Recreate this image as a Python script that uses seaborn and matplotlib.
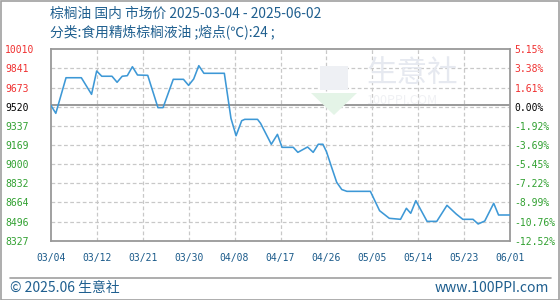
import numpy as np
import pandas as pd
import matplotlib
matplotlib.use("Agg")
import matplotlib.pyplot as plt
import seaborn as sns
from matplotlib.patches import Polygon, Rectangle
from matplotlib.lines import Line2D

# ---- data ----
day = [0, 1, 3, 6, 8, 9, 10, 12, 13, 14, 15, 16, 17, 19, 21, 22, 24, 26, 27, 28, 29, 30,
       34, 35.3, 36.3, 37.4, 38, 40.5, 41.1, 43.2, 44.4, 45.3, 47.5, 48.4, 50.3, 51.4,
       52.4, 53.3, 54, 55, 56, 57, 58, 62.6, 64.4, 66.3, 68.5, 69.65, 70.5, 71.5, 73.7,
       75.6, 77.6, 79.4, 80.7, 82.7, 83.7, 85, 86.75, 87.7, 90]
price = [9520, 9447, 9760, 9760, 9614, 9819, 9773, 9773, 9720, 9773, 9778, 9857, 9784,
         9781, 9497, 9497, 9746, 9746, 9693, 9749, 9866, 9799, 9799, 9403, 9250, 9382,
         9394, 9394, 9359, 9175, 9262, 9148, 9148, 9104, 9151, 9104, 9175, 9175, 9110,
         8974, 8841, 8777, 8761, 8761, 8591, 8524, 8515, 8612, 8568, 8679, 8497, 8497,
         8638, 8562, 8515, 8515, 8474, 8500, 8656, 8553, 8553]
base_price = 9520
x_ticks = [0, 9, 18, 27, 36, 45, 54, 63, 72, 81, 90]
x_labels = ["03/04", "03/12", "03/21", "03/30", "04/08", "04/17", "04/26",
            "05/05", "05/14", "05/23", "06/01"]
y_labels = ["10010", "9841", "9673", "9520", "9337", "9169", "9000",
            "8832", "8664", "8496", "8327"]
pct_labels = ["5.15%", "3.38%", "1.61%", "0.00%", "-1.92%", "-3.69%", "-5.45%",
              "-7.22%", "-8.99%", "-10.76%", "-12.52%"]
title1 = "棕榈油 国内 市场价 2025-03-04 - 2025-06-02"
title2 = "分类:食用精炼棕榈液油 ;熔点(℃):24 ;"
footer_left = "© 2025.06 生意社"
footer_right = "www.100PPI.com"

sns.set_theme(style="white")
plt.rcParams['font.family'] = ['Noto Sans CJK SC', 'DejaVu Sans']

W, H = 560, 300
fig = plt.figure(figsize=(5.6, 3.0), dpi=100)

x0, x1 = 50.7, 510.3
ytop, ybot = 49.3, 240.7
ax = fig.add_axes([x0 / W, 1 - ybot / H, (x1 - x0) / W, (ybot - ytop) / H])

df = pd.DataFrame({"day": day, "price": price})

ymin, ymax = 8327, 10010
grid_y = np.linspace(ymax, ymin, 11)

for gy in grid_y[1:-1]:
    ax.axhline(gy, color='#c8c8c8', lw=0.9, ls=(0, (3, 2)), zorder=1)
for gx in x_ticks[1:-1]:
    ax.axvline(gx, color='#c8c8c8', lw=0.9, ls=(0, (3, 2)), zorder=1)
ax.axhline(base_price, color='#999999', lw=1.4, zorder=2)

sns.lineplot(data=df, x="day", y="price", ax=ax, color='#3d98d6', lw=1.15, zorder=3)

ax.set_xlim(0, 90)
ax.set_ylim(ymin, ymax)
ax.set_xlabel("")
ax.set_ylabel("")
for s in ax.spines.values():
    s.set_color('#999999')
    s.set_linewidth(1.3)

mono = "DejaVu Sans Mono"
ax.set_xticks(x_ticks, x_labels)
ax.tick_params(axis='x', length=0, pad=9, labelsize=7, labelcolor='#1a5a8a')
for t in ax.get_xticklabels():
    t.set_family(mono)

def lab_color(i):
    if i < 3:
        return '#f03030'
    if i == 3:
        return '#000000'
    return '#30a030'

ax.set_yticks(grid_y, y_labels)
ax.tick_params(axis='y', length=0, pad=(x0 - 5) * 0.72, labelsize=7)
for i, t in enumerate(ax.get_yticklabels()):
    t.set_family(mono)
    t.set_color(lab_color(i))
    t.set_horizontalalignment('left')

ax2 = ax.twinx()
ax2.set_ylim(ymin, ymax)
ax2.set_yticks(grid_y, pct_labels)
ax2.tick_params(axis='y', length=0, pad=3, labelsize=7)
for i, t in enumerate(ax2.get_yticklabels()):
    t.set_family(mono)
    t.set_color(lab_color(i))
for s in ax2.spines.values():
    s.set_visible(False)
ax2.grid(False)

# watermark (faint)
fig.text(412 / W, 1 - 74 / H, "生意社", fontsize=22, color='#e6e9f0', ha='center', va='center', zorder=0)
fig.text(402 / W, 1 - 101 / H, "100PPI.COM", fontsize=9, color='#f0f1f4', ha='center', va='center', zorder=0)
tri = Polygon([[311 / W, 1 - 93 / H], [357 / W, 1 - 93 / H], [334 / W, 1 - 115 / H]],
              closed=True, transform=fig.transFigure, facecolor='#e4f4e7', edgecolor='none', zorder=0)
fig.patches.append(tri)
sq = Rectangle((320 / W, 1 - 90 / H), 28 / W, 24 / H, transform=fig.transFigure,
               facecolor='#eef0f4', edgecolor='none', zorder=0)
fig.patches.append(sq)

# titles
fig.text(50 / W, 1 - 14 / H, title1, fontsize=9.9, color='#1f5f8f', va='center', ha='left')
fig.text(50 / W, 1 - 33 / H, title2, fontsize=9.9, color='#1f5f8f', va='center', ha='left')

# footer
fig.add_artist(Line2D([10 / W, 551 / W], [1 - 277.5 / H, 1 - 277.5 / H], color='#a0a0a0', lw=1.2))
fig.text(10 / W, 1 - 288 / H, footer_left, fontsize=10, color='#1f5f8f', va='center', ha='left')
fig.text(549 / W, 1 - 288 / H, footer_right, fontsize=10, color='#1f5f8f', va='center', ha='right')

# outer border
fig.patches.append(Rectangle((0.5 / W, 0.5 / H), 1 - 1.5 / W, 1 - 1.5 / H, transform=fig.transFigure,
                             facecolor='none', edgecolor='#a0a0a0', lw=1.2))

fig.savefig("out.png", dpi=100)
